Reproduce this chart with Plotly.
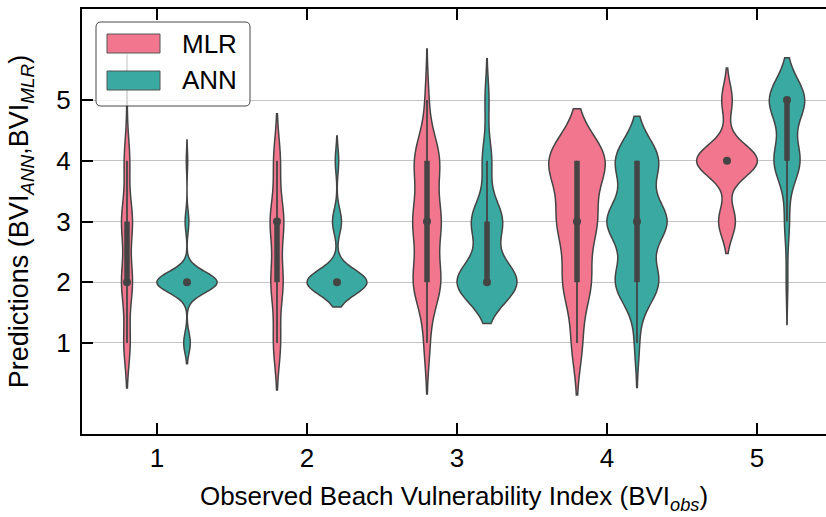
import numpy as np
import plotly.graph_objects as go

# ---------------- data ----------------
categories = [1, 2, 3, 4, 5]          # observed BVI classes (x axis)
bvi_levels = [1, 2, 3, 4, 5]          # possible predicted BVI values
# number of predictions at each level 1..5, for each observed class
mlr_counts = [
    [29, 49, 49, 25, 2],
    [19, 32, 36, 18, 0],
    [5, 24, 24, 22, 3],
    [5, 13, 18, 27, 0],
    [0, 0, 8, 29, 5],
]
ann_counts = [
    [14, 129, 8, 3, 0],
    [0, 87, 13, 5, 0],
    [0, 45, 23, 7, 3],
    [2, 18, 25, 18, 0],
    [0, 1, 3, 16, 22],
]
y_ticks = [1, 2, 3, 4, 5]
series_names = ["MLR", "ANN"]

# ---------------- style ----------------
FONT = "Liberation Sans, Arial, Helvetica, sans-serif"
LINE = "#444444"
COLORS = {"MLR": "#f2778e", "ANN": "#3aa9a1"}
OFFSETS = {"MLR": -0.2, "ANN": 0.2}
W, H = 826, 517
ML, MR, MT, MB = 82, 0, 9, 83

fig = go.Figure()

wx, wy, bx, by, mx, my = [], [], [], [], [], []
for name, counts in zip(series_names, [mlr_counts, ann_counts]):
    for cat, cnt in zip(categories, counts):
        vals = np.repeat(bvi_levels, cnt).astype(float)
        n = len(vals)
        bw = vals.std(ddof=1) * n ** (-0.2)      # Scott's rule, like seaborn
        pos = cat + OFFSETS[name]
        fig.add_trace(go.Violin(
            x=np.full(n, pos), y=vals,
            scalegroup=f"cat{cat}", scalemode="width",
            bandwidth=bw, spanmode="soft", side="both",
            fillcolor=COLORS[name], opacity=1,
            line=dict(color=LINE, width=1.5),
            points=False, box_visible=False, meanline_visible=False,
            showlegend=False, hoverinfo="skip", name=name,
        ))
        q1, med, q3 = np.percentile(vals, [25, 50, 75])
        iqr = q3 - q1
        lo = vals[vals >= q1 - 1.5 * iqr].min()
        hi = vals[vals <= q3 + 1.5 * iqr].max()
        wx += [pos, pos, None]; wy += [lo, hi, None]
        bx += [pos, pos, None]; by += [q1, q3, None]
        mx.append(pos); my.append(med)

fig.add_trace(go.Scatter(x=wx, y=wy, mode="lines", line=dict(color=LINE, width=1.8),
                         showlegend=False, hoverinfo="skip"))
fig.add_trace(go.Scatter(x=bx, y=by, mode="lines", line=dict(color=LINE, width=5.5),
                         showlegend=False, hoverinfo="skip"))
fig.add_trace(go.Scatter(x=mx, y=my, mode="markers",
                         marker=dict(color=LINE, size=8, line=dict(width=0)),
                         showlegend=False, hoverinfo="skip"))

# ---------------- custom legend (matplotlib-like) ----------------
pw, ph = W - ML - MR, H - MT - MB
def px(x):
    return (x - ML) / pw
def py(y):
    return (H - MB - y) / ph

x0, x1, y0, y1, r = 96, 250, 22, 106, 5
path = (f"M{px(x0+r)},{py(y0)} L{px(x1-r)},{py(y0)} Q{px(x1)},{py(y0)} {px(x1)},{py(y0+r)} "
        f"L{px(x1)},{py(y1-r)} Q{px(x1)},{py(y1)} {px(x1-r)},{py(y1)} "
        f"L{px(x0+r)},{py(y1)} Q{px(x0)},{py(y1)} {px(x0)},{py(y1-r)} "
        f"L{px(x0)},{py(y0+r)} Q{px(x0)},{py(y0)} {px(x0+r)},{py(y0)} Z")
shapes = [dict(type="path", path=path, xref="paper", yref="paper", layer="above",
               fillcolor="rgba(255,255,255,0.8)", line=dict(color="rgba(40,40,40,0.85)", width=1))]
annotations = []
for i, name in enumerate(series_names):
    top = 34 + i * 37
    shapes.append(dict(type="rect", xref="paper", yref="paper", layer="above",
                       x0=px(107), x1=px(160), y0=py(top), y1=py(top + 19),
                       fillcolor=COLORS[name], line=dict(color="#555555", width=1)))
    annotations.append(dict(text=name, xref="paper", yref="paper", x=px(180), y=py(top + 9.5),
                            xanchor="left", yanchor="middle", showarrow=False,
                            font=dict(family=FONT, size=26, color="black")))

axis_common = dict(ticks="inside", ticklen=11, tickwidth=2, tickcolor="black",
                   showline=True, linewidth=2, linecolor="black", zeroline=False,
                   tickfont=dict(family=FONT, size=26, color="black"))

fig.update_layout(
    width=W, height=H, margin=dict(l=ML, r=MR, t=MT, b=MB),
    paper_bgcolor="white", plot_bgcolor="white",
    violinmode="overlay", violingap=0, violingroupgap=0, showlegend=False,
    font=dict(family=FONT, color="black"),
    xaxis=dict(range=[0.5, 5.46], tickvals=categories, ticktext=[str(c) for c in categories],
               mirror="ticks", showgrid=False, automargin=False,
               title=dict(text="Observed Beach Vulnerability Index (BVI<sub><i>obs</i></sub>)",
                          font=dict(family=FONT, size=26), standoff=15),
               **axis_common),
    yaxis=dict(range=[-0.5, 6.5], tickvals=y_ticks, ticktext=[str(t) for t in y_ticks],
               showgrid=True, gridcolor="#c4c4c4", gridwidth=1, automargin=False,
               ticklabelstandoff=4,
               title=dict(text="Predictions (BVI<sub><i>ANN</i></sub>,BVI<sub><i>MLR</i></sub>)",
                          font=dict(family=FONT, size=27), standoff=20),
               **axis_common),
    yaxis2=dict(overlaying="y", side="right", anchor="x", range=[-0.5, 6.5], tickvals=y_ticks,
                ticks="inside", ticklen=5, tickwidth=2, tickcolor="black",
                showticklabels=False, showgrid=False, showline=False, zeroline=False),
    shapes=shapes, annotations=annotations,
)

fig.write_html("out.html")
